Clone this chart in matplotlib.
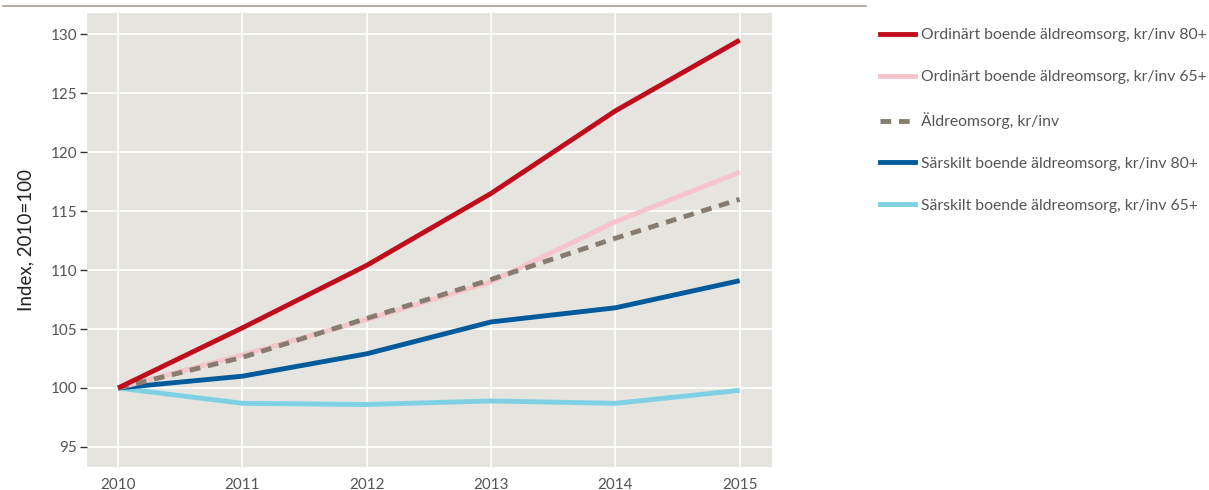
import matplotlib.pyplot as plt
import matplotlib as mpl
from matplotlib.lines import Line2D

years = [2010, 2011, 2012, 2013, 2014, 2015]

ord_80 = [100, 105.1, 110.4, 116.5, 123.5, 129.5]
ord_65 = [100, 102.8, 105.8, 109.0, 114.1, 118.3]
aldre_tot = [100, 102.6, 105.9, 109.2, 112.7, 116.0]
sars_80 = [100, 101.0, 102.9, 105.6, 106.8, 109.1]
sars_65 = [100, 98.7, 98.6, 98.9, 98.7, 99.8]

labels = ["Ordinärt boende äldreomsorg, kr/inv 80+",
          "Ordinärt boende äldreomsorg, kr/inv 65+",
          "Äldreomsorg, kr/inv",
          "Särskilt boende äldreomsorg, kr/inv 80+",
          "Särskilt boende äldreomsorg, kr/inv 65+"]

y_ticks = [95, 100, 105, 110, 115, 120, 125, 130]

plt.rcParams["font.family"] = ["Lato", "DejaVu Sans"]

figure = plt.figure(figsize=(12.09, 4.90), dpi=100)
axis = figure.add_axes([87 / 1209, 1 - 467 / 490, (772 - 87) / 1209, (467 - 13) / 490])

axis.set_facecolor("#e5e4de")
for spine in axis.spines.values():
    spine.set_visible(False)
axis.grid(True, color="white", linewidth=1.2)
axis.set_axisbelow(True)

# Lines, drawn back to front like the original
axis.plot(years, sars_65, color="#7fd0e3", linewidth=3.5, solid_capstyle="butt")
axis.plot(years, sars_80, color="#005a9b", linewidth=3.5, solid_capstyle="butt")
axis.plot(years, ord_65, color="#f6c5cb", linewidth=3.5, solid_capstyle="butt")
axis.plot(years, aldre_tot, color="#877c70", linewidth=3.5, linestyle=(0, (2.2, 1.6)))
axis.plot(years, ord_80, color="#c00d1e", linewidth=3.5, solid_capstyle="butt")

axis.set_xlim(2009.75, 2015.26)
axis.set_ylim(93.3, 131.8)
axis.set_xticks(years)
axis.set_yticks(y_ticks)
axis.tick_params(axis="y", length=5, width=1, color="#333333", labelcolor="#555555", labelsize=11, pad=2)
axis.tick_params(axis="x", length=0, labelcolor="#555555", labelsize=11, pad=8)
axis.set_ylabel("Index, 2010=100", fontsize=13.5, color="#222222", labelpad=12)

# Legend outside on the right
colors = ["#c00d1e", "#f6c5cb", "#877c70", "#005a9b", "#7fd0e3"]
styles = ["-", "-", (0, (2.2, 1.6)), "-", "-"]
handles = [Line2D([], [], color=colors[i], linewidth=3.5, linestyle=styles[i], label=labels[i]) for i in range(len(labels))]
figure.legend(handles=handles, loc="upper left", bbox_to_anchor=(874 / 1209, 1 - 22 / 490),
              borderaxespad=0, frameon=False, fontsize=11.3, labelcolor="#555555", handlelength=2.2,
              handletextpad=0.42, labelspacing=1.78)

# Thin rule along the top
figure.add_artist(Line2D([3 / 1209, 866 / 1209], [1 - 6 / 490, 1 - 6 / 490], color="#a59e92", linewidth=1.2))

plt.savefig("out.png", dpi=100)
